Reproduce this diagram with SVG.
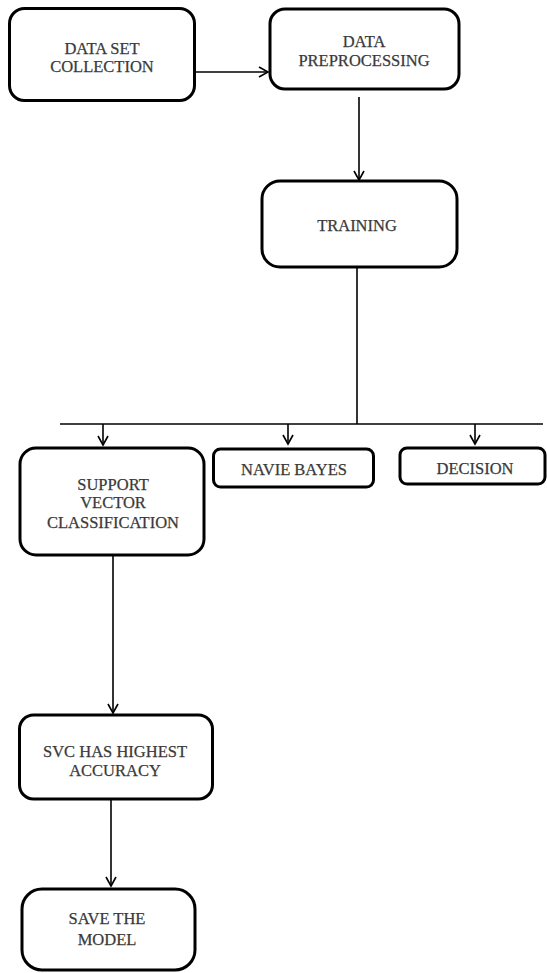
<svg xmlns="http://www.w3.org/2000/svg" width="547" height="973" viewBox="0 0 547 973">
<style>
.box{fill:#fff;stroke:#000;stroke-width:3}
.lbl{font-family:"Liberation Serif","Times New Roman",serif;font-size:16.5px;fill:#3a3a3a;stroke:#3a3a3a;stroke-width:0.25;text-anchor:middle}
.con{fill:none;stroke:#000;stroke-width:1.6}
</style>
<defs>
<marker id="arr" markerUnits="userSpaceOnUse" markerWidth="14" markerHeight="14" refX="10" refY="6" orient="auto">
<path d="M1,1 L10,6 L1,11" fill="none" stroke="#000" stroke-width="1.6"/>
</marker>
</defs>
<rect width="547" height="973" fill="#fff"/>
<g id="connectors">
<line class="con" x1="194" y1="72" x2="268" y2="72" marker-end="url(#arr)"/>
<line class="con" x1="359" y1="97" x2="359" y2="180" marker-end="url(#arr)"/>
<line class="con" x1="357" y1="267" x2="357" y2="424"/>
<line class="con" x1="60" y1="424" x2="543" y2="424"/>
<line class="con" x1="103" y1="424" x2="103" y2="445" marker-end="url(#arr)"/>
<line class="con" x1="288" y1="424" x2="288" y2="444" marker-end="url(#arr)"/>
<line class="con" x1="475" y1="424" x2="475" y2="444" marker-end="url(#arr)"/>
<line class="con" x1="113" y1="555" x2="113" y2="713" marker-end="url(#arr)"/>
<line class="con" x1="111" y1="799" x2="111" y2="886" marker-end="url(#arr)"/>
</g>
<g id="n1">
<rect class="box" x="9.5" y="8.5" width="185" height="92" rx="15"/>
<text class="lbl" x="102" y="53.5">DATA SET</text>
<text class="lbl" x="102" y="71.5">COLLECTION</text>
</g>
<g id="n2">
<rect class="box" x="270" y="9" width="189" height="80" rx="15"/>
<text class="lbl" x="364" y="46.5">DATA</text>
<text class="lbl" x="364" y="65.5">PREPROCESSING</text>
</g>
<g id="n3">
<rect class="box" x="262" y="181" width="195" height="86" rx="18"/>
<text class="lbl" x="357" y="230.5">TRAINING</text>
</g>
<g id="n4">
<rect class="box" x="20" y="448" width="184" height="107" rx="16"/>
<text class="lbl" x="113" y="489.5">SUPPORT</text>
<text class="lbl" x="113" y="508">VECTOR</text>
<text class="lbl" x="113" y="527.5">CLASSIFICATION</text>
</g>
<g id="n5">
<rect class="box" x="213.5" y="449" width="160" height="38" rx="7"/>
<text class="lbl" x="294" y="474.5">NAVIE BAYES</text>
</g>
<g id="n6">
<rect class="box" x="400" y="448" width="145" height="36" rx="7"/>
<text class="lbl" x="475" y="473.5">DECISION</text>
</g>
<g id="n7">
<rect class="box" x="19.5" y="715" width="193" height="84" rx="14"/>
<text class="lbl" x="115" y="757">SVC HAS HIGHEST</text>
<text class="lbl" x="115" y="776">ACCURACY</text>
</g>
<g id="n8">
<rect class="box" x="22" y="889" width="173" height="81" rx="20"/>
<text class="lbl" x="107" y="924">SAVE THE</text>
<text class="lbl" x="107" y="945">MODEL</text>
</g>
</svg>
